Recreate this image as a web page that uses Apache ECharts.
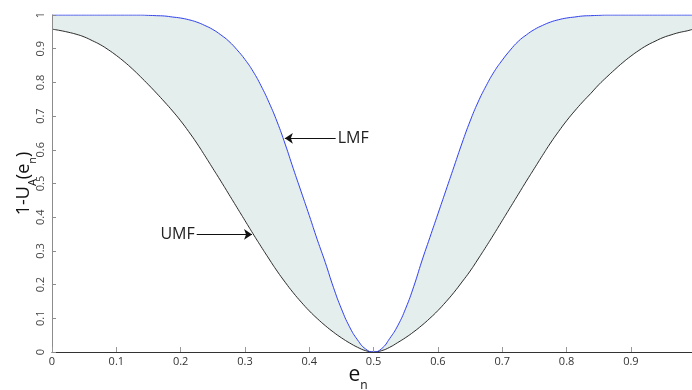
<!DOCTYPE html>
<html>
<head>
<meta charset="utf-8">
<script src="https://cdn.jsdelivr.net/npm/echarts@6/dist/echarts.min.js"></script>
<style>
  html, body { margin: 0; padding: 0; background: #fff; }
  #chart { width: 692px; height: 390px; }
</style>
</head>
<body>
<div id="chart"></div>
<script>
// Normalised error e_n sampled across the axis
const eValues = [
  0, 0.0125, 0.025, 0.0375, 0.05, 0.0625, 0.075, 0.0875, 0.1, 0.1125,
  0.125, 0.1375, 0.15, 0.1625, 0.175, 0.1875, 0.2, 0.2125, 0.225, 0.2375,
  0.25, 0.2625, 0.275, 0.2875, 0.3, 0.3125, 0.325, 0.3375, 0.35, 0.3625,
  0.375, 0.3875, 0.4, 0.4125, 0.425, 0.4375, 0.45, 0.4625, 0.475, 0.4875,
  0.5, 0.5125, 0.525, 0.5375, 0.55, 0.5625, 0.575, 0.5875, 0.6, 0.6125,
  0.625, 0.6375, 0.65, 0.6625, 0.675, 0.6875, 0.7, 0.7125, 0.725, 0.7375,
  0.75, 0.7625, 0.775, 0.7875, 0.8, 0.8125, 0.825, 0.8375, 0.85, 0.8625,
  0.875, 0.8875, 0.9, 0.9125, 0.925, 0.9375, 0.95, 0.9625, 0.975, 0.9875,
  0.995
];

// Upper membership function (black curve)
const umfValues = [
  0.958, 0.954, 0.949, 0.943, 0.935, 0.924, 0.912, 0.897, 0.880, 0.861,
  0.840, 0.817, 0.793, 0.768, 0.742, 0.715, 0.686, 0.654, 0.620, 0.583,
  0.545, 0.507, 0.468, 0.429, 0.390, 0.351, 0.313, 0.276, 0.240, 0.207,
  0.176, 0.148, 0.122, 0.099, 0.078, 0.059, 0.042, 0.027, 0.014, 0.004,
  0.000, 0.004, 0.014, 0.028, 0.043, 0.060, 0.079, 0.100, 0.123, 0.149,
  0.177, 0.208, 0.240, 0.276, 0.313, 0.351, 0.390, 0.429, 0.468, 0.507,
  0.545, 0.583, 0.620, 0.654, 0.686, 0.715, 0.742, 0.767, 0.793, 0.816,
  0.838, 0.859, 0.878, 0.895, 0.910, 0.922, 0.933, 0.941, 0.948, 0.953,
  0.957
];

// Lower membership function (blue curve)
const lmfValues = [
  1.000, 1.000, 1.000, 1.000, 1.000, 1.000, 1.000, 1.000, 1.000, 1.000,
  1.000, 1.000, 0.999, 0.998, 0.997, 0.994, 0.991, 0.986, 0.979, 0.969,
  0.957, 0.941, 0.922, 0.897, 0.868, 0.833, 0.790, 0.740, 0.683, 0.617,
  0.545, 0.475, 0.405, 0.333, 0.265, 0.192, 0.128, 0.075, 0.036, 0.009,
  0.000, 0.010, 0.040, 0.078, 0.130, 0.195, 0.270, 0.340, 0.410, 0.480,
  0.550, 0.620, 0.685, 0.742, 0.790, 0.832, 0.866, 0.896, 0.922, 0.941,
  0.957, 0.969, 0.979, 0.986, 0.991, 0.994, 0.997, 0.998, 0.999, 1.000,
  1.000, 1.000, 1.000, 1.000, 1.000, 1.000, 1.000, 1.000, 1.000, 1.000,
  1.000
];

// Tick labels
const xTicks = ['0', '0.1', '0.2', '0.3', '0.4', '0.5', '0.6', '0.7', '0.8', '0.9'];
const yTicks = ['0', '0.1', '0.2', '0.3', '0.4', '0.5', '0.6', '0.7', '0.8', '0.9', '1'];

const pairs = (ys) => eValues.map((x, i) => [x, ys[i]]);

const FONT = '"Open Sans", "DejaVu Sans", sans-serif';
const curve = { smooth: 0.5, showSymbol: false };

const chart = echarts.init(document.getElementById('chart'), null, { renderer: 'canvas' });

chart.setOption({
  animation: false,
  backgroundColor: '#ffffff',
  grid: { left: 52, right: 0, top: 15, bottom: 38, containLabel: false, outerBoundsMode: 'none' },
  xAxis: {
    type: 'value',
    z: 10,
    min: 0,
    max: 0.995,
    interval: 0.1,
    name: '{e|e}{n|n}',
    nameLocation: 'middle',
    nameMoveOverlap: false,
    nameGap: 10,
    nameTextStyle: {
      padding: [0, 28, 0, 0],
      rich: {
        e: { fontSize: 21, fontFamily: FONT, color: '#111', lineHeight: 24, verticalAlign: 'bottom' },
        n: { fontSize: 12, fontFamily: FONT, color: '#111', lineHeight: 24, verticalAlign: 'bottom', padding: [0, 0, -6, 0] }
      }
    },
    axisLine: { show: true, lineStyle: { color: '#333', width: 1 } },
    axisTick: { show: true, inside: true, length: 5, lineStyle: { color: '#999' } },
    axisLabel: {
      showMaxLabel: false,
      margin: 4,
      fontSize: 11,
      fontFamily: FONT,
      color: '#333',
      formatter: (v) => xTicks[Math.round(v * 10)] ?? ''
    },
    splitLine: { show: false }
  },
  yAxis: {
    type: 'value',
    z: 10,
    min: 0,
    max: 1,
    interval: 0.1,
    name: '{t|1-U}{a|A}{t|(e}{n|n}{t|)}',
    nameLocation: 'middle',
    nameRotate: 90,
    nameMoveOverlap: false,
    nameGap: 19,
    nameTextStyle: {
      rich: {
        t: { fontSize: 18, fontFamily: FONT, color: '#111', lineHeight: 22, verticalAlign: 'bottom' },
        a: { fontSize: 11, fontFamily: FONT, color: '#111', lineHeight: 22, verticalAlign: 'bottom', padding: [0, 0, -5, 0] },
        n: { fontSize: 11, fontFamily: FONT, color: '#111', lineHeight: 22, verticalAlign: 'bottom', padding: [0, 0, -5, 0] }
      }
    },
    axisLine: { show: true, lineStyle: { color: '#8c8c8c', width: 1 } },
    axisTick: { show: true, inside: true, length: 4, lineStyle: { color: '#8c8c8c' } },
    axisLabel: {
      rotate: 90,
      margin: 6,
      fontSize: 11,
      fontFamily: FONT,
      color: '#444',
      formatter: (v) => yTicks[Math.round(v * 10)] ?? ''
    },
    splitLine: { show: false }
  },
  series: [
    {
      // shaded footprint: filled up to the LMF ...
      name: 'LMF area',
      type: 'line',
      data: pairs(lmfValues),
      ...curve,
      lineStyle: { opacity: 0 },
      areaStyle: { color: '#e4eeec', opacity: 1 },
      silent: true,
      z: 1
    },
    {
      // ... and cleared again below the UMF
      name: 'UMF area',
      type: 'line',
      data: pairs(umfValues),
      ...curve,
      lineStyle: { opacity: 0 },
      areaStyle: { color: '#ffffff', opacity: 1 },
      silent: true,
      z: 1
    },
    {
      name: 'UMF',
      type: 'line',
      data: pairs(umfValues),
      ...curve,
      lineStyle: { color: '#2b2b2b', width: 1 },
      z: 3,
      markLine: {
        silent: true,
        symbol: ['none', 'arrow'],
        symbolSize: 8,
        lineStyle: { color: '#111', width: 1, type: 'solid' },
        label: {
          show: true,
          position: 'start',
          distance: 2,
          formatter: 'UMF',
          fontSize: 16,
          fontFamily: FONT,
          color: '#222'
        },
        data: [[{ coord: [0.225, 0.349] }, { coord: [0.311, 0.349] }]]
      }
    },
    {
      name: 'LMF',
      type: 'line',
      data: pairs(lmfValues),
      ...curve,
      lineStyle: { color: '#3040f0', width: 1 },
      z: 3,
      markLine: {
        silent: true,
        symbol: ['none', 'arrow'],
        symbolSize: 8,
        lineStyle: { color: '#111', width: 1, type: 'solid' },
        label: {
          show: true,
          position: 'start',
          distance: 2,
          formatter: 'LMF',
          fontSize: 16,
          fontFamily: FONT,
          color: '#222'
        },
        data: [[{ coord: [0.441, 0.634] }, { coord: [0.362, 0.634] }]]
      }
    }
  ]
});
</script>
</body>
</html>
